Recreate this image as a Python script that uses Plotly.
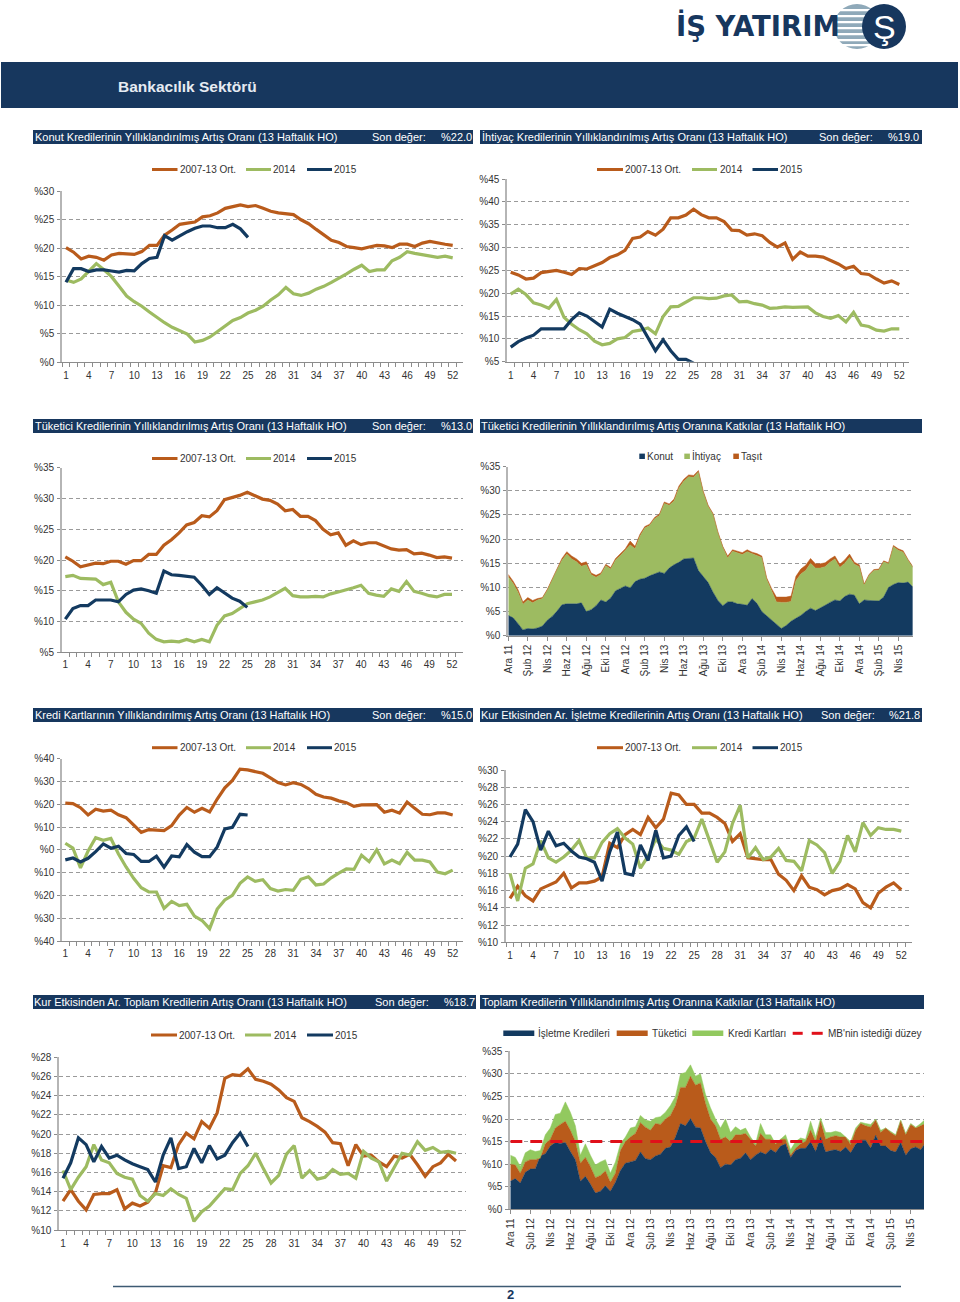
import plotly.graph_objects as go

# ---------- data ----------
weeks_labels = list(range(1, 53, 3))

konut_ort = [20.1,19.3,18.1,18.6,18.4,17.9,18.8,19.1,19.0,18.9,19.4,20.5,20.5,22.3,23.2,24.2,24.4,24.6,25.5,25.7,26.2,27.0,27.3,27.6,27.3,27.5,27.0,26.5,26.2,26.0,25.9,25.0,24.3,23.3,22.3,21.4,21.0,20.3,20.1,19.9,20.2,20.5,20.4,20.1,20.7,20.7,20.3,20.9,21.2,20.9,20.7,20.5]
konut_14 = [14.4,14.0,14.6,16.0,17.3,16.2,15.0,13.3,11.6,10.6,9.8,8.8,7.8,6.9,6.1,5.5,4.9,3.5,3.8,4.4,5.4,6.4,7.3,7.8,8.6,9.1,9.8,10.9,11.8,13.1,12.0,11.7,12.1,12.8,13.3,14.0,14.7,15.5,16.3,17.0,15.9,16.2,16.2,17.8,18.4,19.4,19.1,18.9,18.6,18.4,18.6,18.3]
konut_15 = [14.0,16.4,16.4,15.9,16.2,16.2,16.0,15.8,16.1,16.0,17.3,18.2,18.4,22.2,21.4,22.2,22.9,23.5,23.9,23.9,23.6,23.6,24.2,23.4,21.9]

ihtiyac_ort = [24.6,24.0,23.1,23.3,24.5,24.7,25.0,24.6,24.1,25.4,25.3,26.0,26.7,27.8,28.4,29.4,32.0,32.3,33.5,32.7,34.0,36.5,36.5,37.1,38.4,37.2,36.5,36.5,35.7,33.8,33.7,32.7,33.0,32.6,31.1,30.1,31.0,27.4,29.0,28.1,28.1,27.9,27.2,26.4,25.4,25.9,24.3,24.1,23.1,22.2,22.7,21.9]
ihtiyac_14 = [19.8,20.9,19.7,17.9,17.4,16.7,18.6,14.7,13.2,12.0,11.1,9.5,8.7,9.0,10.0,10.3,11.6,11.9,12.4,11.1,14.9,17.0,17.1,18.0,19.0,19.0,18.8,18.9,19.4,19.6,18.1,18.2,17.7,17.4,16.7,16.8,17.0,16.9,16.9,17.0,15.7,14.9,14.5,15.1,13.7,15.8,13.0,12.7,11.9,11.7,12.2,12.2]
ihtiyac_15 = [8.2,9.4,10.2,10.8,12.2,12.2,12.3,12.2,14.2,15.7,15.0,13.7,12.6,16.5,15.6,14.9,14.2,13.2,10.2,7.4,9.8,7.4,5.5,5.5,4.7]

tuketici_ort = [20.5,19.8,18.9,19.2,19.5,19.4,19.8,19.8,19.3,19.9,19.9,20.9,20.9,22.4,23.3,24.4,25.7,26.1,27.2,27.0,28.0,29.8,30.1,30.5,31.0,30.4,29.9,29.7,29.1,28.0,28.2,27.1,27.1,26.4,25.0,24.1,24.4,22.4,23.1,22.5,22.8,22.8,22.3,21.8,21.6,21.7,21.0,21.1,20.8,20.4,20.5,20.3]
tuketici_14 = [17.3,17.5,17.0,16.9,16.9,16.0,16.4,13.2,11.5,10.4,9.7,8.1,7.1,6.7,6.8,6.7,7.1,6.7,7.1,6.7,9.4,10.9,11.3,12.1,12.9,13.2,13.5,14.0,14.7,15.4,14.2,14.0,14.0,14.1,14.0,14.5,14.8,15.1,15.5,15.9,14.6,14.3,14.1,15.3,14.9,16.5,14.9,14.6,14.2,14.0,14.4,14.4]
tuketici_15 = [10.4,12.1,12.6,12.6,13.5,13.5,13.5,13.2,14.4,15.1,15.3,15.0,14.6,18.2,17.6,17.5,17.4,17.2,15.9,14.4,15.5,14.6,13.8,13.3,12.3]

kart_ort = [20.5,20.3,18.5,15.3,17.8,17.0,17.4,15.4,14.1,10.9,7.7,8.9,8.8,8.4,10.6,15.3,18.6,16.5,18.2,16.6,22.3,27.2,30.5,35.4,35.1,34.4,33.6,31.6,29.5,28.5,29.5,28.7,26.9,24.4,23.2,22.7,21.5,20.7,19.1,19.7,19.9,19.8,16.5,17.4,16.1,21.0,18.2,15.6,15.4,16.2,16.2,15.3]
kart_14 = [2.9,0.8,-7.9,-0.5,5.3,4.2,5.0,-1.8,-7.5,-12.5,-16.6,-18.5,-18.5,-25.7,-22.6,-24.5,-23.9,-29.1,-31.0,-34.6,-26.0,-22.0,-20.0,-14.7,-11.9,-13.8,-13.1,-17.0,-18.1,-17.4,-17.8,-12.9,-11.8,-15.4,-15.0,-12.3,-10.2,-8.4,-8.6,-2.4,-5.2,0.0,-6.2,-4.5,-6.1,-1.1,-4.5,-4.5,-5.3,-9.8,-10.5,-8.9]
kart_15 = [-4.4,-3.6,-5.3,-3.7,-0.8,2.6,0.7,1.6,-1.6,-2.0,-5.1,-5.1,-2.8,-7.6,-2.7,-3.1,2.3,-1.0,-3.0,-3.0,1.3,9.2,9.9,15.6,15.3]

isletme_ort = [15.1,16.5,15.4,14.8,16.2,16.6,17.0,18.0,16.3,16.9,16.9,17.1,17.6,21.5,21.0,22.5,23.1,22.5,24.5,23.3,24.3,27.3,27.1,26.0,26.0,25.0,25.0,24.5,23.8,21.7,22.6,19.8,19.7,19.6,19.6,17.9,17.2,16.0,17.7,16.4,16.1,15.5,16.0,16.2,16.7,16.2,14.6,14.0,15.7,16.4,16.9,16.1]
isletme_14 = [18.0,14.8,18.6,19.1,21.8,19.8,19.3,19.9,20.7,21.8,19.8,19.8,21.6,22.6,23.2,22.1,21.4,18.6,20.0,22.0,20.9,20.7,20.2,21.7,22.1,24.3,21.8,19.3,20.5,23.8,25.9,19.8,21.0,19.6,19.9,20.9,19.5,19.4,18.3,21.8,21.3,20.4,18.0,19.4,22.4,20.5,23.9,22.4,23.3,23.1,23.1,22.9]
isletme_15 = [19.9,21.4,25.4,24.0,20.7,22.9,21.2,21.5,20.6,19.9,19.7,19.3,17.1,20.5,22.8,18.0,17.8,21.3,19.5,23.0,19.8,20.0,22.4,23.4,21.7]

toplam_ort = [13.0,14.2,13.0,12.1,13.7,13.8,13.8,14.2,12.2,12.8,12.5,12.9,13.9,16.7,16.5,18.9,20.1,19.5,21.3,20.6,22.2,25.8,26.2,26.1,26.8,25.7,25.5,25.2,24.6,23.8,23.4,21.7,21.3,20.8,20.2,19.1,19.0,16.7,18.9,17.7,17.8,17.1,16.6,17.7,17.5,17.9,16.8,15.6,16.6,17.0,17.9,17.2]
toplam_14 = [16.2,14.2,15.5,16.6,18.9,17.3,17.0,15.9,15.5,15.3,13.6,13.0,13.8,13.6,14.3,13.7,13.3,10.9,11.9,12.5,13.4,14.3,14.2,15.9,16.7,18.0,16.4,14.9,15.7,17.9,18.8,15.4,16.2,15.3,15.5,16.3,15.8,15.9,15.4,18.2,17.5,17.1,15.1,16.5,18.0,17.8,19.2,18.3,18.6,18.1,18.2,18.0]
toplam_15 = [15.4,17.0,19.6,18.9,17.1,18.7,17.5,17.8,17.3,16.9,16.6,16.3,15.0,17.8,19.6,16.4,16.6,18.5,17.0,18.8,17.4,17.8,19.1,20.1,18.7]

ay_etiketleri = ["Ara 11","Şub 12","Nis 12","Haz 12","Ağu 12","Eki 12","Ara 12","Şub 13","Nis 13","Haz 13","Ağu 13","Eki 13","Ara 13","Şub 14","Nis 14","Haz 14","Ağu 14","Eki 14","Ara 14","Şub 15","Nis 15"]

katki_konut = [4.2,3.7,2.5,1.2,1.5,1.4,1.6,2.0,3.2,4.0,5.1,6.4,6.6,6.6,6.6,6.8,5.0,5.4,6.2,7.4,7.0,7.8,9.3,9.8,10.3,9.9,11.2,11.7,11.9,12.4,12.8,13.2,12.9,14.0,14.7,15.2,15.9,16.0,16.1,13.5,12.3,11.0,9.0,7.3,6.2,7.0,7.0,6.6,6.5,6.3,7.7,6.7,5.0,4.1,3.2,2.3,1.5,2.1,3.0,3.6,4.2,5.0,5.7,5.2,5.7,6.3,6.9,7.4,7.2,8.1,8.6,8.4,6.6,7.4,7.3,7.2,7.2,8.0,10.0,10.6,11.0,10.9,11.1,10.1]
katki_toplam = [12.7,11.3,9.5,7.0,7.9,7.3,7.7,7.9,9.6,11.8,14.0,16.0,17.4,16.5,15.9,15.0,15.3,13.0,12.5,13.0,14.8,14.1,16.0,16.9,18.0,19.6,18.5,21.0,22.6,23.1,24.5,25.2,27.7,27.3,28.3,31.0,32.4,33.3,33.2,34.2,29.9,27.0,25.3,21.5,18.5,16.5,17.8,17.5,17.2,17.8,17.3,17.0,16.5,12.0,9.8,8.0,8.0,8.0,8.2,12.3,13.8,14.6,16.0,14.9,14.9,15.1,15.9,16.5,14.8,15.7,16.9,15.2,14.7,10.7,12.7,13.7,13.8,15.5,15.1,18.7,18.0,17.6,15.8,14.3]
katki_tasit = [0.5,0.5,0.5,0.5,0.5,0.5,0.3,0.2,0.2,0.2,0.3,0.4,0.5,0.6,0.6,0.6,0.6,0.4,0.4,0.3,0.3,0.3,0.3,0.3,0.4,0.8,0.5,0.4,0.3,0.3,0.3,0.3,0.3,0.3,0.4,0.4,0.4,0.4,0.4,0.3,0.3,0.2,0.2,0.2,0.2,0.4,0.3,0.3,0.4,0.4,0.3,0.3,0.3,0.3,0.5,1.0,1.1,1.1,1.1,0.9,1.0,1.1,1.0,0.9,0.9,0.8,0.7,0.6,0.7,0.7,0.7,0.4,0.4,0.2,0.2,0.2,0.2,0.2,0.2,0.3,0.3,0.3,0.2,0.2]
katki_ihtiyac = [t - k - s for t, k, s in zip(katki_toplam, katki_konut, katki_tasit)]

pay_isletme = [6.2,6.8,5.8,8.2,8.9,9.0,11.8,12.3,14.0,14.8,14.6,14.8,12.8,11.0,6.2,7.3,5.6,3.6,4.0,5.2,4.0,6.0,8.6,10.2,10.5,10.8,12.7,11.2,11.0,11.8,12.2,13.5,13.8,16.0,19.0,18.5,20.1,18.2,18.0,15.0,12.5,11.5,9.2,10.0,9.8,11.0,11.3,12.5,11.0,12.0,12.7,12.2,13.3,12.6,14.0,14.5,11.5,13.0,13.5,13.5,15.0,12.8,16.0,12.7,13.0,13.2,12.8,13.8,12.5,14.4,15.3,15.3,13.5,16.4,14.0,14.0,13.0,12.7,14.8,12.0,13.4,13.8,13.2,14.8]
pay_ust_tuketici = [10.0,9.8,8.0,10.5,11.0,11.0,11.3,14.5,15.5,18.0,18.8,19.5,17.5,15.0,10.2,11.5,9.5,7.0,7.5,8.5,6.0,8.0,13.0,15.0,16.0,16.8,19.2,18.2,17.5,19.0,18.8,20.0,20.8,23.0,27.0,27.0,29.5,27.5,28.0,23.5,20.0,18.5,15.5,16.0,15.0,16.5,16.5,16.8,15.5,14.0,16.8,15.5,15.5,14.5,15.5,15.5,12.0,13.5,14.5,15.0,17.5,15.0,19.5,15.5,16.0,16.3,16.0,16.0,14.3,17.5,19.0,18.5,18.2,19.8,17.0,18.0,17.0,16.3,19.6,16.5,18.8,18.0,18.5,19.0]
pay_ust_kart = [12.0,11.5,9.5,12.5,13.2,12.8,13.0,16.5,18.0,21.0,21.3,23.8,21.5,18.5,12.0,14.5,12.0,9.8,10.5,11.0,8.0,10.5,14.5,16.0,18.0,18.3,20.8,19.8,19.5,20.3,20.5,21.5,23.0,25.0,30.0,30.3,32.0,29.5,30.0,25.5,22.5,20.0,18.0,20.0,17.0,18.3,17.5,18.0,16.0,14.5,19.0,16.5,16.5,14.5,15.5,16.5,13.2,15.0,15.8,15.5,19.5,16.0,20.2,17.0,17.0,17.3,17.0,16.0,15.0,18.0,19.3,19.0,18.8,20.0,17.5,18.0,17.2,16.5,19.8,16.8,19.0,18.2,19.0,20.0]
pay_tuketici = [u - a for u, a in zip(pay_ust_tuketici, pay_isletme)]
pay_kart = [u - a for u, a in zip(pay_ust_kart, pay_ust_tuketici)]
mb_duzey = [15.0] * len(pay_isletme)

# ---------- style ----------
FONT = "Liberation Sans"
NAVY = "#133A60"
ORANGE = "#B95B1B"
GREEN = "#9DBB61"
BRIGHT_GREEN = "#92C95F"
RED = "#E0101A"
BAND = "#17375E"
TXT = "#333333"
W, H = 960, 1302

def X(p): return p / W
def Y(p): return 1 - p / H

fig = go.Figure()
shapes, notes = [], []

def rect(x0, y0, x1, y1, color, layer="below"):
    shapes.append(dict(type="rect", xref="paper", yref="paper", x0=X(x0), x1=X(x1), y0=Y(y1), y1=Y(y0), fillcolor=color, line_width=0, layer=layer))

def hline(x0, x1, y, color, width, dash=None):
    shapes.append(dict(type="line", xref="paper", yref="paper", x0=X(x0), x1=X(x1), y0=Y(y), y1=Y(y), layer="above",
                       line=dict(color=color, width=width, dash=dash) if dash else dict(color=color, width=width)))

def text(x, y, s, size=11, color="#FFFFFF", bold=False, anchor="left", family=FONT):
    notes.append(dict(xref="paper", yref="paper", x=X(x), y=Y(y), text=f"<b>{s}</b>" if bold else s, showarrow=False,
                      xanchor=anchor, yanchor="middle", font=dict(family=family, size=size, color=color), borderpad=0, borderwidth=0))

def setup_axes(idx, left, right, first_px, last_px, first_v, last_v, top, bottom, ymin, ymax, yticks, ylabels, xvals, xlabels, angle, minor, standoff=0):
    per = (last_px - first_px) / (last_v - first_v)
    rng = [first_v + (left - first_px) / per, first_v + (right - first_px) / per]
    xa = dict(domain=[X(left), X(right)], range=rng, anchor=f"y{idx}", tickmode="array", tickvals=xvals, ticktext=xlabels,
              showgrid=False, zeroline=False, showline=True, linecolor="#8C8C8C", linewidth=1,
              tickfont=dict(family=FONT, size=10, color=TXT), tickangle=angle, fixedrange=True, ticklabelstandoff=standoff)
    if minor:
        xa.update(ticks="", minor=dict(tick0=0.5, dtick=1, ticks="outside", ticklen=4, tickcolor="#8C8C8C", showgrid=False))
    else:
        xa.update(ticks="outside", ticklen=4, tickcolor="#8C8C8C")
    ya = dict(domain=[Y(bottom), Y(top)], range=[ymin, ymax], anchor=f"x{idx}", tickmode="array", tickvals=yticks, ticktext=ylabels,
              showgrid=True, gridcolor="#9A9A9A", griddash="4px,3px", gridwidth=1, zeroline=False, showline=True, linecolor="#B5B5B5", linewidth=2,
              ticks="outside", ticklen=3, tickcolor="#8C8C8C", tickfont=dict(family=FONT, size=10, color=TXT), fixedrange=True, ticklabelstandoff=1)
    fig.layout[f"xaxis{idx}"] = xa
    fig.layout[f"yaxis{idx}"] = ya

LINE_NAMES = ("2007-13 Ort.", "2014", "2015")
LINE_COLS = (ORANGE, GREEN, NAVY)

def line_panel(idx, geom, ort, y14, y15, ymin, ymax, step, leg, standoff):
    left, right, first_px, last_px, top, bottom = geom
    ticks = list(range(ymin, ymax + 1, step))
    setup_axes(idx, left, right, first_px, last_px, 1, 52, top, bottom, ymin, ymax, ticks, [f"%{abs(v)}" for v in ticks],
               weeks_labels, [str(v) for v in weeks_labels], 0, True, standoff)
    for name, vals, col in zip(LINE_NAMES, (ort, y14, y15), LINE_COLS):
        fig.add_trace(go.Scatter(x=list(range(1, len(vals) + 1)), y=vals, mode="lines", name=name, xaxis=f"x{idx}", yaxis=f"y{idx}",
                                 line=dict(color=col, width=3.2), showlegend=False, hoverinfo="skip"))
    y = leg[0]
    for (x0, x1, tx), name, col in zip(leg[1:], LINE_NAMES, LINE_COLS):
        hline(x0, x1, y, col, 3)
        text(tx, y, name, size=10, color=TXT)

LEG_LEFT = ((152, 177.5, 180), (246, 271, 273), (307, 332, 334))
LEG_RIGHT = ((597, 623, 625), (692, 717, 719.5), (752.5, 778, 780))
line_panel(1, (62.2, 463, 66, 452.7, 191.3, 362), konut_ort, konut_14, konut_15, 0, 30, 5, (169.5, *LEG_LEFT), 4)
line_panel(2, (507.3, 909, 510.7, 899.3, 179, 361.7), ihtiyac_ort, ihtiyac_14, ihtiyac_15, 5, 45, 5, (169.5, *LEG_RIGHT), 4)
line_panel(3, (62, 463, 65.3, 452, 467.7, 652.3), tuketici_ort, tuketici_14, tuketici_15, 5, 35, 5, (458.5, *LEG_LEFT), 3)
line_panel(5, (62.3, 463, 65.3, 452.7, 758.7, 941), kart_ort, kart_14, kart_15, -40, 40, 10, (747.7, *LEG_LEFT), 3)
line_panel(6, (506, 911.7, 510, 901.3, 770, 942.3), isletme_ort, isletme_14, isletme_15, 10, 30, 2, (747.7, *LEG_RIGHT), 4)
line_panel(7, (59.3, 466, 63, 456, 1057.3, 1230), toplam_ort, toplam_14, toplam_15, 10, 28, 2, (1035, (151, 177, 179), (245, 271, 274), (307, 333, 335)), 4)

def area_panel(idx, geom, series):
    left, right, top, bottom, last_px = geom
    ticks = list(range(0, 36, 5))
    setup_axes(idx, left, right, left, last_px, 0, 20, top, bottom, 0, 35, ticks, [f"%{v}" for v in ticks],
               list(range(len(ay_etiketleri))), ay_etiketleri, -90, False)
    for name, vals, col in series:
        fig.add_trace(go.Scatter(x=[i / 4 for i in range(len(vals))], y=vals, mode="lines", name=name, xaxis=f"x{idx}", yaxis=f"y{idx}",
                                 stackgroup=f"s{idx}", fillcolor=col, line=dict(color=col, width=0.5), showlegend=False, hoverinfo="skip"))

area_panel(4, (508.3, 912.7, 466.7, 635.7, 898.3), [("Konut", katki_konut, NAVY), ("İhtiyaç", katki_ihtiyac, GREEN), ("Taşıt", katki_tasit, ORANGE)])
area_panel(8, (510.3, 924, 1051.3, 1209.3, 910.7), [("İşletme Kredileri", pay_isletme, NAVY), ("Tüketici", pay_tuketici, ORANGE), ("Kredi Kartları", pay_kart, BRIGHT_GREEN)])
fig.add_trace(go.Scatter(x=[i / 4 for i in range(len(mb_duzey))], y=mb_duzey, mode="lines", name="MB'nin istediği düzey", xaxis="x8", yaxis="y8",
                         line=dict(color=RED, width=3, dash="12px,8px"), showlegend=False, hoverinfo="skip"))

# area legends
for x0, tx, name, col in ((639.3, 647.3, "Konut", NAVY), (684.3, 692.3, "İhtiyaç", GREEN), (733.3, 741.3, "Taşıt", ORANGE)):
    rect(x0, 453.6, x0 + 5.6, 459, col, layer="above")
    text(tx, 456.3, name, size=10, color=TXT)
for x0, tx, name, col in ((503.3, 538.3, "İşletme Kredileri", NAVY), (616.7, 652, "Tüketici", ORANGE), (692.3, 728.3, "Kredi Kartları", BRIGHT_GREEN)):
    rect(x0, 1030.5, x0 + 31, 1036, col, layer="above")
    text(tx, 1033.3, name, size=10, color=TXT)
hline(792.7, 802.7, 1033.3, RED, 3)
hline(811.7, 822.7, 1033.3, RED, 3)
text(828.3, 1033.3, "MB'nin istediği düzey", size=10, color=TXT)

# ---------- page furniture ----------
rect(1, 62, 958, 108, BAND)
text(118, 87, "Bankacılık Sektörü", size=15.5, color="#E6EBF2", bold=True)

bands = [
    (33, 473, 130, 144, "Konut Kredilerinin Yıllıklandırılmış Artış Oranı (13 Haftalık HO)", 35, 372, "%22.0", 472),
    (480, 922, 130, 144, "İhtiyaç Kredilerinin Yıllıklandırılmış Artış Oranı (13 Haftalık HO)", 482, 819, "%19.0", 919),
    (33, 473, 419, 433, "Tüketici Kredilerinin Yıllıklandırılmış Artış Oranı (13 Haftalık HO)", 35, 372, "%13.0", 472),
    (480, 922, 419, 433, "Tüketici Kredilerinin Yıllıklandırılmış Artış Oranına Katkılar (13 Haftalık HO)", 481, None, None, None),
    (33, 473, 708, 722, "Kredi Kartlarının Yıllıklandırılmış Artış Oranı (13 Haftalık HO)", 35, 372, "%15.0", 472),
    (480, 922, 708, 722, "Kur Etkisinden Ar. İşletme Kredilerinin Artış Oranı (13 Haftalık HO)", 481, 821, "%21.8", 920),
    (33, 476, 995, 1009, "Kur Etkisinden Ar. Toplam Kredilerin Artış Oranı (13 Haftalık HO)", 34, 375, "%18.7", 475),
    (480, 924, 995, 1009, "Toplam Kredilerin Yıllıklandırılmış Artış Oranına Katkılar (13 Haftalık HO)", 482, None, None, None),
]
for x0, x1, y0, y1, title, tx, sx, val, vx in bands:
    rect(x0, y0, x1, y1, BAND)
    ym = (y0 + y1) / 2
    text(tx, ym, title)
    if sx is not None:
        text(sx, ym, "Son değer:")
        text(vx, ym, val, anchor="right")

# logo
shapes.append(dict(type="circle", xref="paper", yref="paper", x0=X(834), x1=X(880), y0=Y(49), y1=Y(4), fillcolor="#8FA9B9", line_width=0, layer="above"))
for yy in (9, 15, 21, 27, 33, 39, 44):
    rect(830, yy, 884, yy + 2.2, "#FFFFFF", layer="above")
shapes.append(dict(type="circle", xref="paper", yref="paper", x0=X(862), x1=X(906), y0=Y(49), y1=Y(4), fillcolor=BAND, line_width=0, layer="above"))
text(676, 26, "İŞ YATIRIM", size=27.5, color=BAND, bold=True, family="DejaVu Sans")
text(884, 27, "Ş", size=34, color="#FFFFFF", anchor="center")

# footer
hline(113, 901, 1286.5, "#3D5A73", 1.5)
text(510, 1294, "2", size=13, color=BAND, bold=True, anchor="center")

fig.update_layout(width=W, height=H, margin=dict(l=0, r=0, t=0, b=0, autoexpand=False), autosize=False, plot_bgcolor="rgba(0,0,0,0)", paper_bgcolor="#FFFFFF",
                  shapes=shapes, annotations=notes, hovermode=False, showlegend=False, font=dict(family=FONT))
fig.write_html("out.html", config=dict(displayModeBar=False), post_script="document.body.style.margin='0';document.body.style.overflow='hidden';")
